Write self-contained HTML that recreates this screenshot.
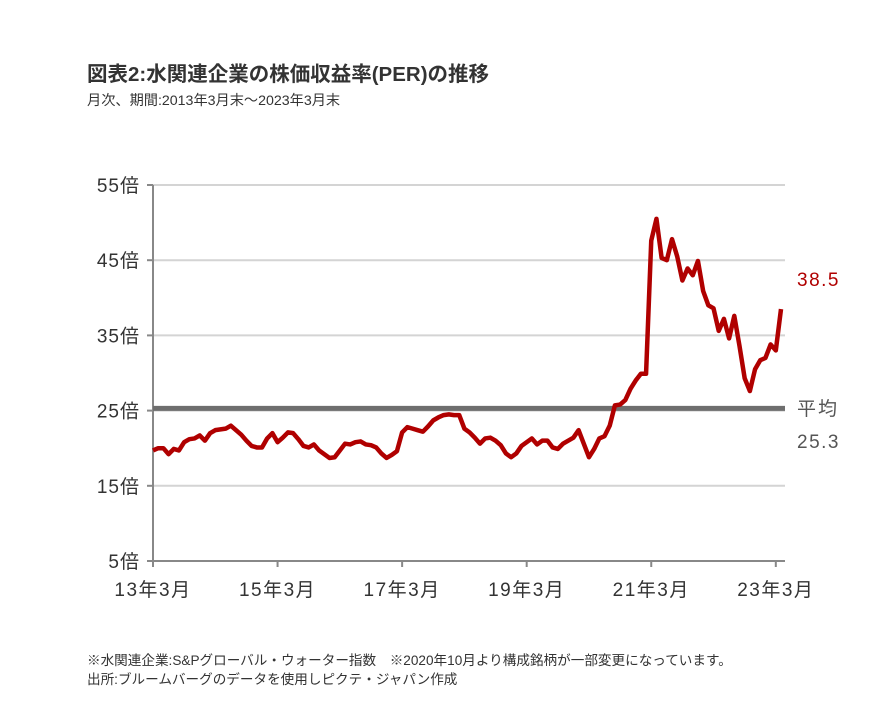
<!DOCTYPE html>
<html><head><meta charset="utf-8"><style>
body{margin:0;background:#fff;width:896px;height:714px;overflow:hidden;font-family:"Liberation Sans","Noto Sans CJK JP",sans-serif;}
</style></head><body>
<svg id="chart" width="896" height="714" xmlns="http://www.w3.org/2000/svg" font-family="Liberation Sans, Noto Sans CJK JP, sans-serif">
<text x="87" y="81" font-size="20.5" font-weight="bold" fill="#333">図表2:水関連企業の株価収益率(PER)の推移</text>
<text x="87" y="105" font-size="14.2" fill="#333">月次、期間:2013年3月末～2023年3月末</text>
<g id="grid"></g><g id="axes"></g><g id="series"></g>
<text x="797" y="286" font-size="19" fill="#b00000" letter-spacing="1.5">38.5</text>
<text x="797" y="415" font-size="19" fill="#555" letter-spacing="2">平均</text>
<text x="797" y="448" font-size="19" fill="#555" letter-spacing="1.5">25.3</text>
<text x="87" y="665" font-size="13.6" fill="#333">※水関連企業:S&amp;Pグローバル・ウォーター指数　※2020年10月より構成銘柄が一部変更になっています。</text>
<text x="87" y="684" font-size="13.6" fill="#333">出所:ブルームバーグのデータを使用しピクテ・ジャパン作成</text>
</svg>
<script>
const yTicks=[5,15,25,35,45,55];
const xLabels=["13年3月","15年3月","17年3月","19年3月","21年3月","23年3月"];
const average=25.3;
const per=[19.7,20.0,20.0,19.2,19.9,19.7,20.8,21.2,21.3,21.7,21.0,22.0,22.4,22.5,22.6,23.0,22.4,21.8,21.0,20.3,20.1,20.1,21.3,22.0,20.8,21.4,22.1,22.0,21.2,20.3,20.1,20.5,19.7,19.2,18.7,18.8,19.7,20.6,20.5,20.8,20.9,20.5,20.4,20.1,19.3,18.7,19.1,19.6,22.1,22.8,22.6,22.4,22.2,22.9,23.7,24.1,24.4,24.5,24.4,24.4,22.6,22.1,21.4,20.6,21.3,21.4,21.0,20.4,19.3,18.8,19.3,20.3,20.8,21.3,20.5,21.0,21.0,20.1,19.9,20.6,21.0,21.4,22.4,20.6,18.8,19.9,21.3,21.6,23.0,25.7,25.8,26.4,27.9,29.0,29.9,29.9,47.6,50.5,45.3,45.0,47.8,45.5,42.3,43.9,43.0,44.9,40.9,39.0,38.6,35.6,37.2,34.6,37.6,33.6,29.3,27.6,30.5,31.7,32.0,33.8,33.0,38.5];
const NS="http://www.w3.org/2000/svg";
const x0=153,x1=781,y0=561,y1=185;
const X=i=>x0+(x1-x0)*i/(per.length-1);
const Y=v=>y0-(v-5)/(55-5)*(y0-y1);
function mk(t,a,p){const e=document.createElementNS(NS,t);for(const k in a)e.setAttribute(k,a[k]);p.appendChild(e);return e;}
const grid=document.getElementById('grid'),axes=document.getElementById('axes'),ser=document.getElementById('series');
yTicks.forEach(v=>{
 if(v>5){const g=mk('line',{x1:x0,x2:785,y1:Y(v),y2:Y(v),stroke:'#d4d4d4','stroke-width':2},grid);
 
 }
 const tk=mk('line',{x1:147,x2:x0,y1:Y(v),y2:Y(v),stroke:'#888','stroke-width':2},axes);
 
 
 const t=mk('text',{x:140,y:Y(v)+7,'font-size':19,fill:'#333','text-anchor':'end','letter-spacing':1},axes);t.textContent=v+'倍';
 
 
});
const ya=mk('line',{x1:x0,x2:x0,y1:y1,y2:y0+5,stroke:'#888','stroke-width':2},axes);


const xa=mk('line',{x1:x0,x2:785,y1:y0,y2:y0,stroke:'#888','stroke-width':2},axes);


xLabels.forEach((l,k)=>{const x=X(k*24);
 const tk=mk('line',{x1:x,x2:x,y1:y0,y2:y0+6,stroke:'#888','stroke-width':2},axes);
 
 
 const t=mk('text',{x:x,y:y0+35,'font-size':19,fill:'#333','text-anchor':'middle','letter-spacing':1.5},axes);t.textContent=l;
 
 
});
const av=mk('line',{x1:x0,x2:785,y1:Y(average),y2:Y(average),stroke:'#6e6e6e','stroke-width':5},ser);


const pl=mk('polyline',{points:per.map((v,i)=>X(i)+','+Y(v)).join(' '),fill:'none',stroke:'#b00000','stroke-width':4.5,'stroke-linejoin':'round'},ser);


</script>
</body></html>
